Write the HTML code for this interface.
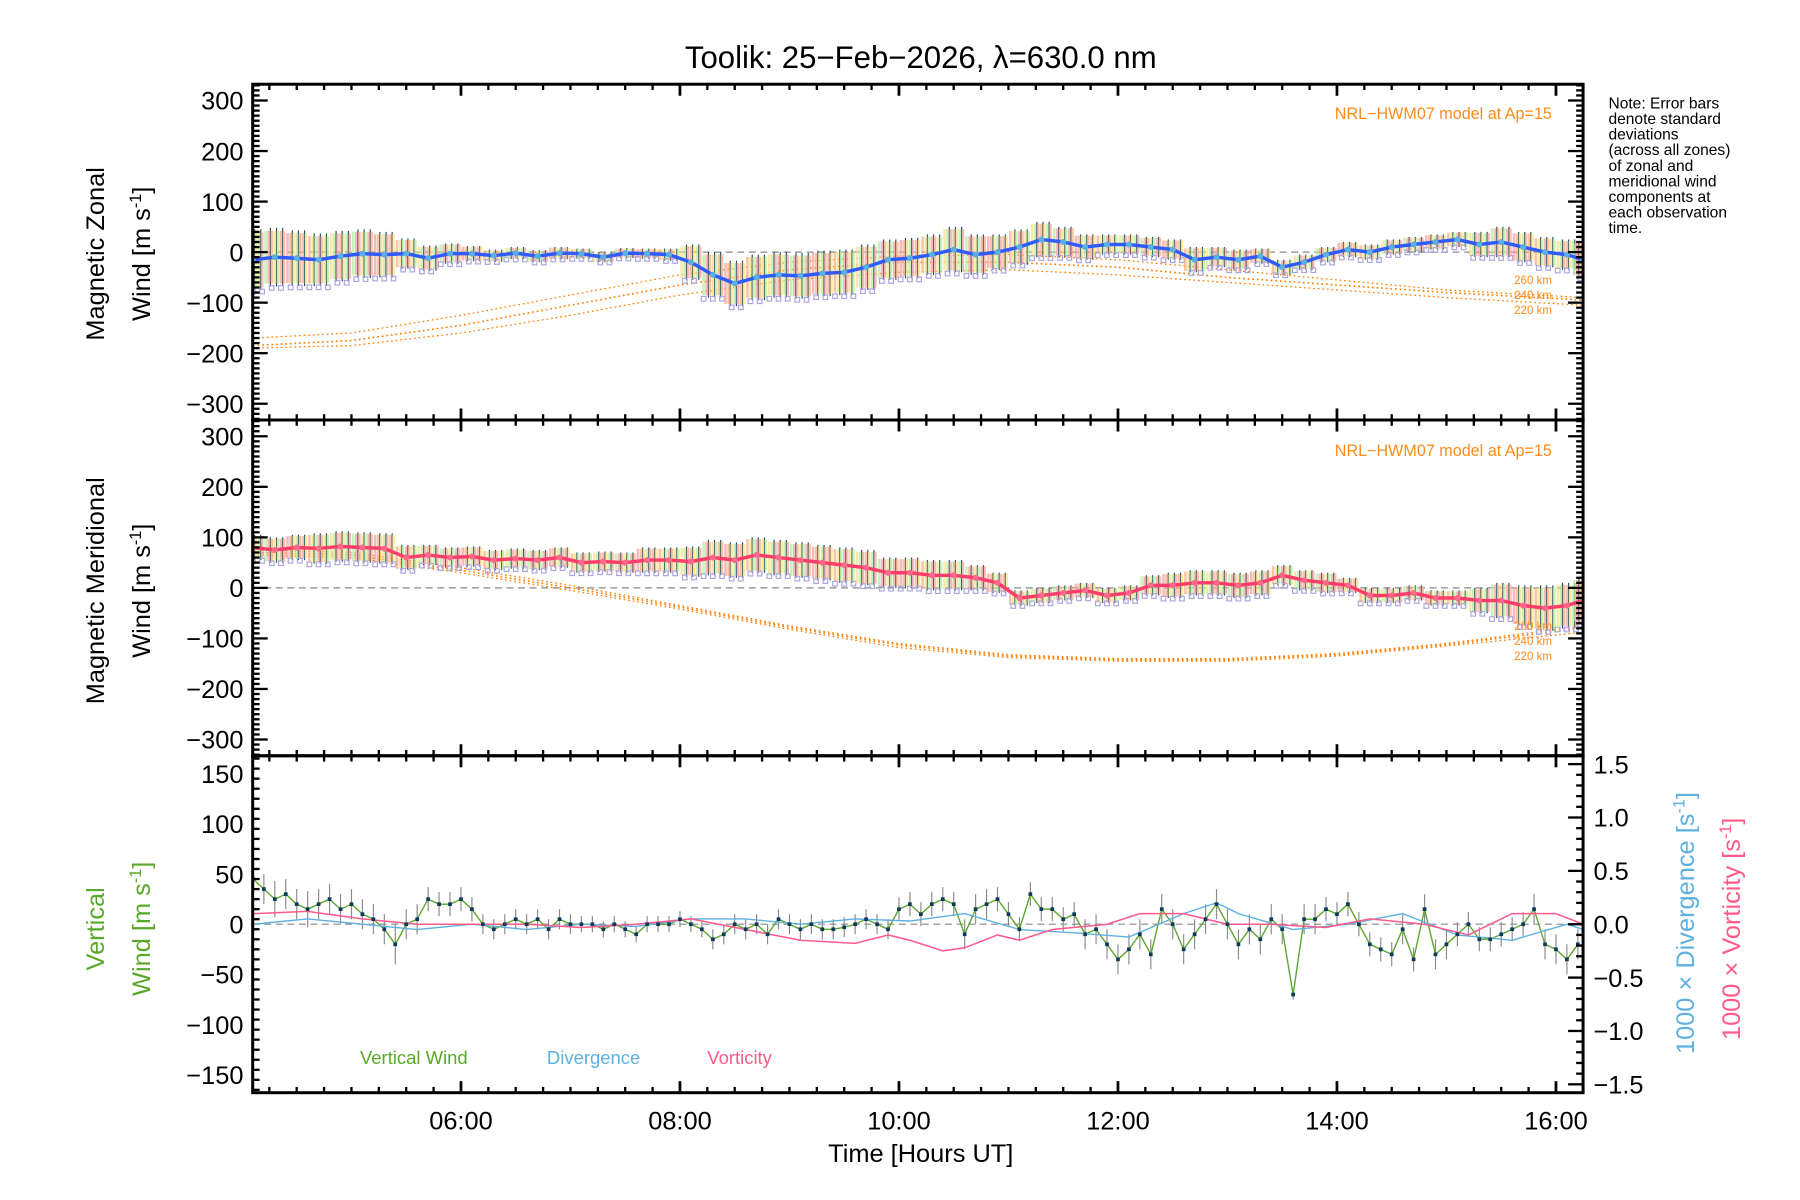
<!DOCTYPE html>
<html><head><meta charset="utf-8"><title>Toolik winds</title>
<style>
html,body{margin:0;padding:0;background:#fff;}
svg{display:block;font-family:"Liberation Sans",sans-serif;}
</style></head>
<body>
<svg id="chart" width="1800" height="1200" viewBox="0 0 1560 1040" xmlns="http://www.w3.org/2000/svg">
<text x="798" y="59" font-size="27" text-anchor="middle">Toolik: 25−Feb−2026, λ=630.0 nm</text>
<g font-size="13.5" fill="#000">
<text x="1394" y="94">Note: Error bars</text>
<text x="1394" y="107.5">denote standard</text>
<text x="1394" y="121">deviations</text>
<text x="1394" y="134.5">(across all zones)</text>
<text x="1394" y="148">of zonal and</text>
<text x="1394" y="161.5">meridional wind</text>
<text x="1394" y="175">components at</text>
<text x="1394" y="188.5">each observation</text>
<text x="1394" y="202">time.</text>
</g>
<g id="layer"></g>
</svg>
<script>
// ---------- data ----------
const meanTimes = [4.1,4.3,4.5,4.7,4.9,5.1,5.3,5.5,5.7,5.9,6.1,6.3,6.5,6.7,6.9,7.1,7.3,7.5,7.7,7.9,8.1,8.3,8.5,8.7,8.9,9.1,9.3,9.5,9.7,9.9,10.1,10.3,10.5,10.7,10.9,11.1,11.3,11.5,11.7,11.9,12.1,12.3,12.5,12.7,12.9,13.1,13.3,13.5,13.7,13.9,14.1,14.3,14.5,14.7,14.9,15.1,15.3,15.5,15.7,15.9,16.1,16.25];
const zonalMean = [-15,-10,-12,-15,-8,-3,-5,-3,-12,-3,-3,-7,-2,-8,-2,-3,-10,-2,-3,-5,-20,-45,-62,-50,-45,-47,-42,-40,-30,-15,-12,-5,5,-5,0,10,25,20,10,15,15,10,5,-15,-10,-15,-8,-30,-20,-5,5,0,10,15,20,25,15,20,10,0,-5,-15];
const zonalErr = [60,58,55,52,50,48,45,30,25,20,15,12,12,12,12,10,10,10,10,12,35,45,45,45,45,45,45,45,45,40,40,40,45,40,35,35,35,30,25,20,20,20,20,25,20,20,15,15,15,15,15,15,15,15,15,15,25,30,30,30,30,35];
const meridMean = [80,75,80,78,82,80,78,60,65,60,62,55,58,55,60,50,52,50,55,55,52,60,55,65,60,55,50,45,40,30,30,25,25,20,10,-20,-15,-10,-5,-15,-10,5,5,10,10,5,10,25,15,10,5,-15,-15,-10,-20,-20,-25,-25,-35,-40,-35,-25];
const meridErr = [25,25,25,30,30,30,30,25,20,20,20,20,20,20,20,20,20,20,25,25,30,35,35,35,35,35,35,35,35,30,30,30,30,25,20,15,15,15,15,15,15,20,25,25,25,25,25,20,20,20,15,15,15,15,15,15,25,35,40,45,45,45];
const modelTimes = [4.1,5,6,7,8,9,10,11,12,13,14,15,16.25];
const zonal260 = [-170,-160,-125,-85,-45,-20,-8,-5,-15,-35,-55,-75,-90];
const zonal240 = [-185,-175,-145,-105,-65,-35,-20,-20,-30,-50,-65,-80,-95];
const zonal220 = [-190,-185,-160,-125,-85,-55,-40,-35,-45,-60,-75,-90,-105];
const merid260 = [75,70,40,5,-35,-75,-110,-132,-140,-140,-130,-110,-75];
const merid240 = [70,65,35,0,-38,-78,-113,-135,-142,-142,-132,-112,-80];
const merid220 = [65,60,30,-5,-42,-82,-118,-138,-145,-145,-135,-115,-88];
const vertStart = 4.1;
const vertStep = 0.1;
const vertWind = [45,35,25,30,20,15,20,25,15,20,10,5,-5,-20,0,5,25,20,20,25,15,0,-5,0,5,0,5,-5,5,0,0,0,-5,0,-5,-10,0,0,0,5,0,-5,-15,-10,0,-5,0,-10,5,0,-5,0,-5,-5,-3,0,5,0,-5,15,20,10,20,25,20,-10,15,20,25,10,-5,30,15,15,5,10,-10,-5,-20,-35,-25,-10,-30,15,0,-25,-10,5,20,0,-20,-5,-15,5,-5,-70,5,5,15,10,20,0,-20,-25,-30,-5,-35,15,-30,-20,-10,0,-15,-15,-10,-5,0,15,-20,-25,-35,-20];
const vertErr = [15,15,18,15,15,18,15,15,15,15,15,15,15,20,15,15,12,12,12,12,12,10,10,10,10,10,10,10,10,10,8,8,8,8,8,8,8,8,8,8,8,8,10,10,10,10,10,10,10,10,10,10,10,10,10,10,10,10,10,12,12,12,12,12,12,15,15,15,12,12,12,12,12,12,12,12,15,15,15,15,15,15,15,15,15,15,15,15,15,15,15,15,15,15,15,5,15,15,12,12,12,12,12,12,12,15,12,15,15,15,12,12,12,12,12,12,12,15,15,15,15,15];
const divTimes = [4.1,4.6,5.1,5.6,6.1,6.6,7.1,7.6,8.1,8.6,9.1,9.6,10.1,10.6,11.1,11.6,12.1,12.6,12.9,13.1,13.6,14.1,14.6,15.1,15.6,16.1,16.25];
const divergence = [0.0,0.05,0.0,-0.05,0.0,-0.05,0.0,-0.02,0.05,0.05,0.0,0.05,0.03,0.1,-0.05,-0.08,-0.12,0.1,0.2,0.1,-0.05,0.0,0.1,-0.1,-0.15,0.0,-0.05];
const vortTimes = [4.1,4.6,5.1,5.6,6.1,6.6,7.1,7.6,8.1,8.6,9.1,9.6,9.9,10.1,10.4,10.6,10.9,11.1,11.4,11.9,12.2,12.6,13.0,13.4,13.9,14.3,14.8,15.2,15.6,16.0,16.25];
const vorticity = [0.1,0.12,0.05,0.0,0.0,0.0,-0.03,0.0,0.05,-0.05,-0.15,-0.18,-0.1,-0.15,-0.25,-0.22,-0.1,-0.15,-0.05,0.0,0.1,0.1,0.0,0.0,-0.03,0.05,0.0,-0.1,0.1,0.1,0.0];
const xTickLabels = ["06:00","08:00","10:00","12:00","14:00","16:00"];
const xTickHours = [6,8,10,12,14,16];
const windTicks = [300,200,100,0,-100,-200,-300];
const vertTicks = [150,100,50,0,-50,-100,-150];
const rightTicks = ["1.5","1.0","0.5","0.0","−0.5","−1.0","−1.5"];
const rightTickVals = [1.5,1.0,0.5,0.0,-0.5,-1.0,-1.5];

// ---------- geometry ----------
const NS = "http://www.w3.org/2000/svg";
const layer = document.getElementById('layer');
const X0 = 219, X1 = 1372;
const P1 = {top:73, bot:364, zero:218.5, k:0.438};
const P2 = {top:364, bot:655, zero:509.5, k:0.438};
const P3 = {top:655, bot:947, zero:801, k:0.87, rk:92.5};
function xs(h){ return 399.5 + (h-6)*94.9; }
function ys(p,v){ return p.zero - v*p.k; }
function yr(v){ return P3.zero - v*P3.rk; }
function mk(tag, attrs, parent){
  const e = document.createElementNS(NS, tag);
  for (const k in attrs) e.setAttribute(k, attrs[k]);
  (parent||layer).appendChild(e); return e;
}
function clip(p,id){
  const d = mk('clipPath',{id:id});
  mk('rect',{x:X0,y:p.top,width:X1-X0,height:p.bot-p.top},d);
}
clip(P1,'c1'); clip(P2,'c2'); clip(P3,'c3');

function linePath(times, vals, fy){
  return times.map((t,i)=>(i?'L':'M')+xs(t).toFixed(1)+' '+fy(vals[i]).toFixed(1)).join(' ');
}

// ---------- wind panels ----------
function windPanel(p, mean, err, m260, m240, m220, color, clipId, name){
  const g = mk('g',{'clip-path':'url(#'+clipId+')'});
  
  
  mk('line',{x1:X0,x2:X1,y1:ys(p,0),y2:ys(p,0),stroke:'#888','stroke-dasharray':'6 4','stroke-width':1},g);
  [[m260,1.1],[m240,1.4],[m220,1.1]].forEach((m,j)=>{
    const pl = mk('path',{d:linePath(modelTimes,m[0],v=>ys(p,v)),fill:'none',stroke:'#ff7f00','stroke-width':m[1],'stroke-dasharray':'1.5 2.5'},g);
    
    
  });
  const cols = ['#f7b08a','#ffe08a','#b4f0a0','#f5a3a3'];
  meanTimes.forEach((t,i)=>{
    for (let s=-3; s<=3; s++){
      const tt = t + s*0.028; if (tt>16.3) continue;
      const x = xs(tt);
      const c = cols[(i+s+8)%4];
      mk('line',{x1:x,x2:x,y1:ys(p,mean[i]+err[i]*0.9),y2:ys(p,mean[i]-err[i]*0.9),stroke:c,'stroke-width':2.2,opacity:0.75},g);
      if (s%2===0){
        const b = mk('line',{x1:x+1.5,x2:x+1.5,y1:ys(p,mean[i]+err[i]),y2:ys(p,mean[i]-err[i]),stroke:'#1c4a5a','stroke-width':1},g);
        
        
      }
      if ((i+s)%3===0){
        mk('rect',{x:x-2,y:ys(p,mean[i]-err[i]*1.05)-2,width:4,height:4,fill:'none',stroke:'#a9a3e0','stroke-width':1},g);
      }
    }
  });
  const ln = mk('path',{d:linePath(meanTimes,mean,v=>ys(p,v)),fill:'none',stroke:color,'stroke-width':3},g);
  
  
  meanTimes.forEach((t,i)=>{
    const c = mk('circle',{cx:xs(t),cy:ys(p,mean[i]),r:2.6,fill:color==='#2f5bff'?'#5ab0e0':'#ff6a8a'},g);
    
    
  });
}
windPanel(P1, zonalMean, zonalErr, zonal260, zonal240, zonal220, '#2f5bff', 'c1', 'zonal');
windPanel(P2, meridMean, meridErr, merid260, merid240, merid220, '#ff3d6a', 'c2', 'meridional');

// ---------- vertical panel ----------
(function(){
  const g = mk('g',{'clip-path':'url(#c3)'});
  
  
  mk('line',{x1:X0,x2:X1,y1:P3.zero,y2:P3.zero,stroke:'#888','stroke-dasharray':'6 4','stroke-width':1},g);
  const vt = vertWind.map((v,i)=>vertStart+i*vertStep);
  vt.forEach((t,i)=>{
    const b = mk('line',{x1:xs(t),x2:xs(t),y1:ys(P3,vertWind[i]+vertErr[i]),y2:ys(P3,vertWind[i]-vertErr[i]),stroke:'#8a8a8a','stroke-width':1},g);
    
    
  });
  const vl = mk('path',{d:linePath(vt,vertWind,v=>ys(P3,v)),fill:'none',stroke:'#5aa82a','stroke-width':1.2},g);
  
  
  const dl = mk('path',{d:linePath(divTimes,divergence,yr),fill:'none',stroke:'#5eb0e0','stroke-width':1.2},g);
  
  
  const ol = mk('path',{d:linePath(vortTimes,vorticity,yr),fill:'none',stroke:'#ff5a8a','stroke-width':1.3},g);
  
  
  vt.forEach((t,i)=>{
    const r = mk('rect',{x:xs(t)-1.6,y:ys(P3,vertWind[i])-1.6,width:3.2,height:3.2,fill:'#0b3a5a'},g);
    
    
  });
})();

// ---------- axes ----------
function frame(p, name){
  const f = mk('rect',{x:X0,y:p.top,width:X1-X0,height:p.bot-p.top,fill:'none',stroke:'#000','stroke-width':2.6});
  
  
  for (let h=4.25; h<=16.26; h+=0.25){
    const x = xs(h); const major = Math.abs(h-Math.round(h))<0.01 && Math.round(h)%2===0;
    const L = major?10:5;
    mk('line',{x1:x,x2:x,y1:p.top,y2:p.top+L,stroke:'#000','stroke-width':major?2.4:2});
    mk('line',{x1:x,x2:x,y1:p.bot,y2:p.bot-L,stroke:'#000','stroke-width':major?2.4:2});
  }
}
function yTicks(p, vmin, vmax, minorStep, majorStep, labels, vals, name, rightMinor){
  for (let v=vmin; v<=vmax+0.001; v+=minorStep){
    const y = ys(p,v); if (y<p.top-0.5||y>p.bot+0.5) continue;
    const major = Math.abs(v/majorStep-Math.round(v/majorStep))<0.001;
    const L = major?13:6;
    mk('line',{x1:X0,x2:X0+L,y1:y,y2:y,stroke:'#000','stroke-width':2});
    if (rightMinor) mk('line',{x1:X1,x2:X1-L,y1:y,y2:y,stroke:'#000','stroke-width':2});
  }
  vals.forEach((v,i)=>{
    const t = mk('text',{x:211,y:ys(p,v)+8,'font-size':22,'text-anchor':'end'});
    t.textContent = labels[i];
    
    
  });
}
frame(P1,'zonal'); frame(P2,'meridional'); frame(P3,'vertical');
const wl = windTicks.map(v=>v<0?'−'+(-v):String(v));
yTicks(P1,-330,330,10,100,wl,windTicks,'zonal',true);
yTicks(P2,-330,330,10,100,wl,windTicks,'meridional',true);
yTicks(P3,-165,165,10,50,vertTicks.map(v=>v<0?'−'+(-v):String(v)),vertTicks,'vertical',false);
for (let v=-1.5; v<=1.51; v+=0.1){
  const y = yr(v); const major = Math.abs(v*2-Math.round(v*2))<0.001;
  mk('line',{x1:X1,x2:X1-(major?13:6),y1:y,y2:y,stroke:'#000','stroke-width':2});
}
rightTickVals.forEach((v,i)=>{
  const t = mk('text',{x:1381,y:yr(v)+8,'font-size':22});
  t.textContent = rightTicks[i];
  
  
});
xTickHours.forEach((h,i)=>{
  const t = mk('text',{x:xs(h),y:979,'font-size':22,'text-anchor':'middle'});
  t.textContent = xTickLabels[i];
  
  
});
</script>
<script>
const svg = document.getElementById('chart');
function txt(s, attrs, name){
  const t = document.createElementNS("http://www.w3.org/2000/svg",'text');
  for (const k in attrs) t.setAttribute(k, attrs[k]);
  t.innerHTML = s;
  
  
  svg.appendChild(t);
}
txt('Time [Hours UT]',{x:798,y:1007,'font-size':22,'text-anchor':'middle'},'x-axis-title');
txt('Magnetic Zonal',{transform:'translate(90,220) rotate(-90)','font-size':22,'text-anchor':'middle'},'zonal-y-title-line1');
txt('Wind [m s<tspan dy="-8" font-size="14">-1</tspan><tspan dy="8">]</tspan>',{transform:'translate(130,220) rotate(-90)','font-size':22,'text-anchor':'middle'},'zonal-y-title-line2');
txt('Magnetic Meridional',{transform:'translate(90,512) rotate(-90)','font-size':22,'text-anchor':'middle'},'meridional-y-title-line1');
txt('Wind [m s<tspan dy="-8" font-size="14">-1</tspan><tspan dy="8">]</tspan>',{transform:'translate(130,512) rotate(-90)','font-size':22,'text-anchor':'middle'},'meridional-y-title-line2');
txt('Vertical',{transform:'translate(90,805) rotate(-90)','font-size':22,'text-anchor':'middle',fill:'#5aa82a'},'vertical-y-title-line1');
txt('Wind [m s<tspan dy="-8" font-size="14">-1</tspan><tspan dy="8">]</tspan>',{transform:'translate(130,805) rotate(-90)','font-size':22,'text-anchor':'middle',fill:'#5aa82a'},'vertical-y-title-line2');
txt('1000 × Divergence [s<tspan dy="-8" font-size="14">-1</tspan><tspan dy="8">]</tspan>',{transform:'translate(1468,800) rotate(-90)','font-size':22,'text-anchor':'middle',fill:'#5eb0e0'},'divergence-axis-title');
txt('1000 × Vorticity [s<tspan dy="-8" font-size="14">-1</tspan><tspan dy="8">]</tspan>',{transform:'translate(1508,805) rotate(-90)','font-size':22,'text-anchor':'middle',fill:'#ff5a8a'},'vorticity-axis-title');
txt('NRL−HWM07 model at Ap=15',{x:1345,y:103,'font-size':14,'text-anchor':'end',fill:'#ff8c1a'},'zonal-model-label');
txt('NRL−HWM07 model at Ap=15',{x:1345,y:395,'font-size':14,'text-anchor':'end',fill:'#ff8c1a'},'meridional-model-label');
[['260 km',246],['240 km',259],['220 km',272],['260 km',546],['240 km',559],['220 km',572]].forEach((a,i)=>{
  txt(a[0],{x:1345,y:a[1],'font-size':10,'text-anchor':'end',fill:'#ff8c1a'},i<3?'zonal-altitude-label':'meridional-altitude-label');
});
txt('Vertical Wind',{x:312,y:922,'font-size':16,fill:'#5aa82a'},'legend-vertical-wind');
txt('Divergence',{x:474,y:922,'font-size':16,fill:'#5eb0e0'},'legend-divergence');
txt('Vorticity',{x:613,y:922,'font-size':16,fill:'#ff5a8a'},'legend-vorticity');
</script>
</body></html>
